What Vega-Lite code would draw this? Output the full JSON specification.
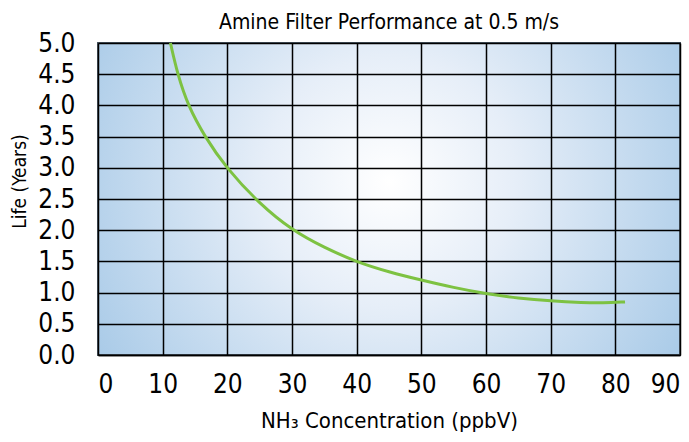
{
  "$schema": "https://vega.github.io/schema/vega-lite/v6.json",
  "autosize": {"type": "none"},
  "padding": {"left": 98, "top": 43, "right": 9, "bottom": 87},
  "width": 582,
  "height": 312,
  "background": "#ffffff",
  "view": {
    "fill": {
      "gradient": "radial",
      "x1": 0.5, "y1": 0.47, "r1": 0,
      "x2": 0.5, "y2": 0.47, "r2": 0.62,
      "stops": [
        {"offset": 0, "color": "#ffffff"},
        {"offset": 0.35, "color": "#e6eef8"},
        {"offset": 1, "color": "#a3c7e6"}
      ]
    },
    "stroke": "#4a5763",
    "strokeWidth": 2
  },
  "title": {
    "text": "Amine Filter Performance at 0.5 m/s",
    "font": "DejaVu Sans Condensed, sans-serif",
    "fontSize": 21,
    "fontWeight": "normal",
    "color": "#000000",
    "offset": -3
  },
  "data": {
    "values": [
      {"conc": 11.2, "life": 5.0},
      {"conc": 12.3, "life": 4.5},
      {"conc": 13.9, "life": 4.0},
      {"conc": 16.5, "life": 3.5},
      {"conc": 19.8, "life": 3.0},
      {"conc": 25, "life": 2.42},
      {"conc": 30, "life": 2.0},
      {"conc": 35, "life": 1.72},
      {"conc": 40, "life": 1.49},
      {"conc": 45, "life": 1.33},
      {"conc": 50, "life": 1.2},
      {"conc": 55, "life": 1.08},
      {"conc": 60, "life": 0.98},
      {"conc": 65, "life": 0.91},
      {"conc": 70, "life": 0.865},
      {"conc": 75, "life": 0.84},
      {"conc": 78, "life": 0.835},
      {"conc": 81.5, "life": 0.85}
    ]
  },
  "mark": {"type": "line", "color": "#7dc242", "strokeWidth": 3, "interpolate": "basis"},
  "encoding": {
    "x": {
      "field": "conc",
      "type": "quantitative",
      "scale": {"domain": [0, 90], "nice": false, "zero": true},
      "axis": {
        "title": "NH₃ Concentration (ppbV)",
        "values": [0, 10, 20, 30, 40, 50, 60, 70, 80, 90],
        "format": "d",
        "grid": true,
        "gridColor": "#000000",
        "gridWidth": 1.5,
        "gridOpacity": 1,
        "domain": true,
        "domainColor": "#000000",
        "domainWidth": 1.5,
        "ticks": false,
        "labelFont": "DejaVu Sans Condensed, sans-serif",
        "labelFontSize": 26,
        "labelColor": "#000000",
        "labelPadding": 16,
        "labelFlush": true,
        "labelOverlap": false,
        "titleFont": "DejaVu Sans Condensed, sans-serif",
        "titleFontSize": 22,
        "titleFontWeight": "normal",
        "titleColor": "#000000",
        "titlePadding": 13
      }
    },
    "y": {
      "field": "life",
      "type": "quantitative",
      "scale": {"domain": [0, 5], "nice": false},
      "axis": {
        "title": "Life (Years)",
        "values": [0, 0.5, 1, 1.5, 2, 2.5, 3, 3.5, 4, 4.5, 5],
        "format": ".1f",
        "grid": true,
        "gridColor": "#000000",
        "gridWidth": 1.5,
        "gridOpacity": 1,
        "domain": false,
        "ticks": false,
        "labelFont": "DejaVu Sans Condensed, sans-serif",
        "labelFontSize": 26,
        "labelColor": "#000000",
        "labelPadding": 23,
        "labelFlush": false,
        "labelOverlap": false,
        "titleFont": "DejaVu Sans Condensed, sans-serif",
        "titleFontSize": 19,
        "titleFontWeight": "normal",
        "titleColor": "#000000",
        "titlePadding": 8,
        "titleY": 138
      }
    }
  }
}
